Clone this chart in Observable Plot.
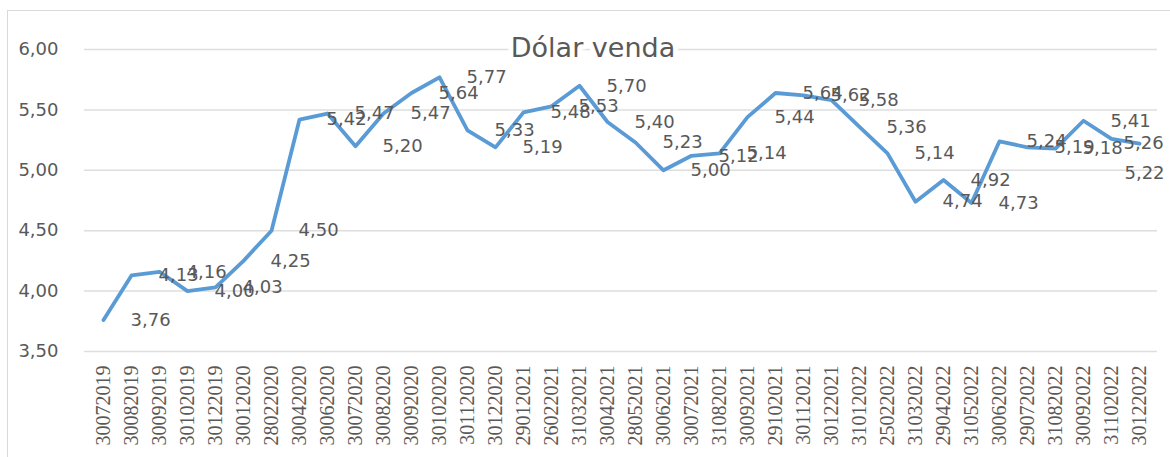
<!DOCTYPE html>
<html>
<head>
<meta charset="utf-8">
<script src="https://cdn.jsdelivr.net/npm/d3@7"></script>
<script src="https://cdn.jsdelivr.net/npm/@observablehq/plot@0.6"></script>
<style>
  html, body { margin: 0; padding: 0; background: #fff; overflow: hidden; }
  #wrap { position: relative; width: 1170px; height: 457px; overflow: hidden; }
  #frame { position: absolute; left: 7px; top: 10px; width: 1190px; height: 480px; border: 1.5px solid #d9d9d9; box-sizing: border-box; }
  #chart { position: absolute; left: 0; top: 0; }
</style>
</head>
<body>
<div id="wrap"><div id="frame"></div><div id="chart"></div></div>
<script>
const title = "Dólar venda";
const dates = ["30072019","30082019","30092019","30102019","30122019","30012020","28022020","30042020","30062020","30072020","30082020","30092020","30102020","30112020","30122020","29012021","26022021","31032021","30042021","28052021","30062021","30072021","31082021","30092021","29102021","30112021","30122021","31012022","25022022","31032022","29042022","31052022","30062022","29072022","31082022","30092022","31102022","30122022"];
const values = [3.76,4.13,4.16,4.00,4.03,4.25,4.50,5.42,5.47,5.20,5.47,5.64,5.77,5.33,5.19,5.48,5.53,5.70,5.40,5.23,5.00,5.12,5.14,5.44,5.64,5.62,5.58,5.36,5.14,4.74,4.92,4.73,5.24,5.19,5.18,5.41,5.26,5.22];
const yTicks = [3.5, 4.0, 4.5, 5.0, 5.5, 6.0];

const fmt = v => v.toFixed(2).replace(".", ",");
const data = dates.map((d, i) => ({date: d, value: values[i]}));
const n = data.length;
const gray = "#595959";
const labelOpts = {x: "date", y: "value", text: d => fmt(d.value), fontSize: 18, fill: gray};

const chart = Plot.plot({
  width: 1170,
  height: 457,
  marginLeft: 84,
  marginRight: 13,
  marginTop: 49,
  marginBottom: 106,
  x: {type: "point", domain: dates, padding: 0.5},
  y: {domain: [3.5, 6]},
  style: {fontFamily: "DejaVu Sans", background: "transparent"},
  marks: [
    Plot.gridY(yTicks, {stroke: "#dedede", strokeOpacity: 1, strokeWidth: 1.5}),
    Plot.axisY(yTicks, {tickSize: 0, tickPadding: 26, tickFormat: fmt, fontSize: 18, fill: gray, label: null}),
    Plot.axisX({tickRotate: -90, tickSize: 0, tickPadding: 14, fontSize: 20, fontFamily: "Liberation Serif", fill: gray, label: null}),
    Plot.text([title], {text: d => d, frameAnchor: "top", lineAnchor: "middle", dx: -28, dy: -1, fontSize: 27, fill: gray, stroke: "white", strokeWidth: 10}),
    Plot.line(data, {x: "date", y: "value", stroke: "#5B9BD5", strokeWidth: 3.8, strokeLinejoin: "round"}),
    Plot.text(data.slice(0, n - 2), {...labelOpts, dx: 27, textAnchor: "start"}),
    Plot.text(data.slice(n - 2, n - 1), {...labelOpts, dx: 12, dy: 4, textAnchor: "start"}),
    Plot.text(data.slice(n - 1), {...labelOpts, dx: 5, dy: 30, textAnchor: "middle"})
  ]
});
document.getElementById("chart").appendChild(chart);
</script>
</body>
</html>
